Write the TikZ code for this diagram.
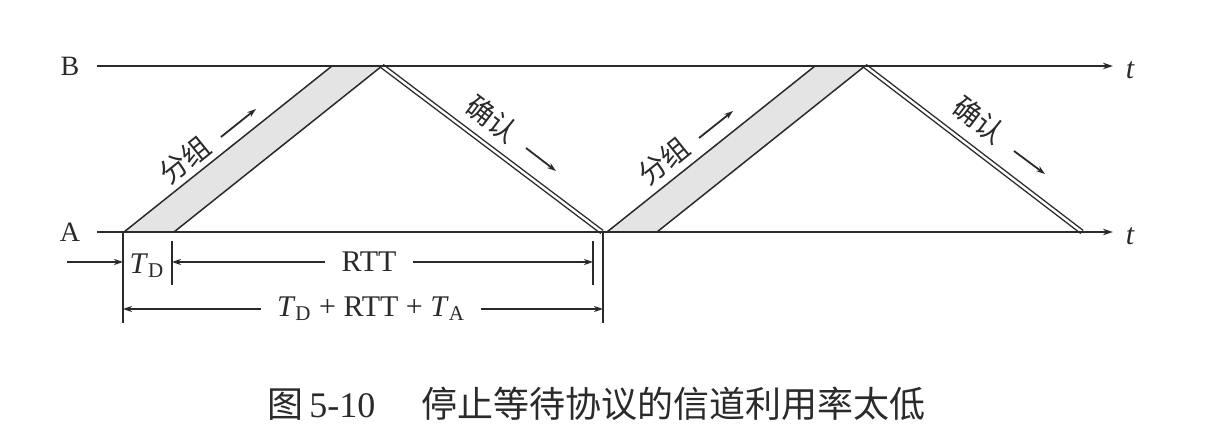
\documentclass[tikz,border=0pt]{standalone}
\usepackage{fontspec}
\setmainfont{Liberation Serif}
\newfontfamily\cjk{Noto Sans CJK SC}
\usetikzlibrary{arrows.meta}
\definecolor{ink}{HTML}{2A2A2A}
\definecolor{pktfill}{HTML}{E4E4E4}
\tikzset{
  axisline/.style={draw=ink, line width=1.2pt, -{Stealth[length=5pt,width=3.2pt]}},
  edge/.style={draw=ink, line width=0.75pt},
  pkt/.style={fill=pktfill},
  ackline/.style={draw=ink, line width=0.7pt, double=white, double distance=1.2pt},
  dimline/.style={draw=ink, line width=0.8pt},
  dimarrow/.style={draw=ink, line width=0.8pt, -{Stealth[length=4.5pt,width=3pt]}},
  lblarrow/.style={draw=ink, line width=0.9pt, -{Stealth[length=4.5pt,width=3pt]}},
  lbl/.style={inner sep=0pt, text=ink, font=\fontsize{14}{16}\selectfont},
  dimlbl/.style={inner sep=0pt, text=ink, font=\fontsize{15}{17}\selectfont},
  cjklbl/.style={inner sep=0pt, text=ink, font=\fontsize{14}{16}\selectfont\cjk},
}
\begin{document}
\begin{tikzpicture}[x=0.5pt,y=-0.5pt]
\useasboundingbox[fill=white] (0,0) rectangle (1206,426);

% station labels
\node[lbl] (B) at (70,66) {B};
\node[lbl] (A) at (70,232) {A};
\node[dimlbl, font=\fontsize{15}{17}\selectfont\itshape] (tB) at (1130,70) {t};
\node[dimlbl, font=\fontsize{15}{17}\selectfont\itshape] (tA) at (1130,236) {t};

% axis coordinates
\coordinate (B0) at (97,66);
\coordinate (B1) at (1113,66);
\coordinate (A0) at (97,232);
\coordinate (A1) at (1113,232);

% packet 1
\coordinate (p1a) at (124,232);
\coordinate (p1b) at (174,232);
\coordinate (p1c) at (382,66);
\coordinate (p1d) at (332,66);
% ack 1
\coordinate (k1a) at (382,66);
\coordinate (k1b) at (602,232);
% packet 2
\coordinate (p2a) at (607,232);
\coordinate (p2b) at (657,232);
\coordinate (p2c) at (865,66);
\coordinate (p2d) at (815,66);
% ack 2
\coordinate (k2a) at (865,66);
\coordinate (k2b) at (1082,232);

\fill[pkt] (p1a) -- (p1b) -- (p1c) -- (p1d) -- cycle;
\fill[pkt] (p2a) -- (p2b) -- (p2c) -- (p2d) -- cycle;
\draw[edge] (p1a) -- (p1d);
\draw[edge] (p1b) -- (p1c);
\draw[edge] (p2a) -- (p2d);
\draw[edge] (p2b) -- (p2c);
\draw[ackline] (k1a) -- (k1b);
\draw[ackline] (k2a) -- (k2b);

\draw[axisline] (B0) -- (B1);
\draw[axisline] (A0) -- (A1);

% slanted labels
\node[cjklbl, rotate=38.9] (g1) at (185,160) {分组};
\coordinate (g1a) at (221,137);
\coordinate (g1b) at (256,109);
\draw[lblarrow] (g1a) -- (g1b);
\node[cjklbl, rotate=38.9] (g2) at (664,161) {分组};
\coordinate (g2a) at (699,138);
\coordinate (g2b) at (733,111);
\draw[lblarrow] (g2a) -- (g2b);
\node[cjklbl, rotate=-37] (c1) at (492,119) {确认};
\coordinate (c1a) at (526,148);
\coordinate (c1b) at (556,171);
\draw[lblarrow] (c1a) -- (c1b);
\node[cjklbl, rotate=-37] (c2) at (979,120) {确认};
\coordinate (c2a) at (1014,151);
\coordinate (c2b) at (1045,174);
\draw[lblarrow] (c2a) -- (c2b);

% dimension bars
\coordinate (L0) at (123,232);
\coordinate (L1) at (123,323);
\coordinate (TD0) at (172,241);
\coordinate (TD1) at (172,285);
\coordinate (RT0) at (593,241);
\coordinate (RT1) at (593,285);
\coordinate (R0) at (603,232);
\coordinate (R1) at (603,323);
\draw[dimline] (L0) -- (L1);
\draw[dimline] (TD0) -- (TD1);
\draw[dimline] (RT0) -- (RT1);
\draw[dimline] (R0) -- (R1);

% T_D
\coordinate (in0) at (67,262);
\coordinate (in1) at (123,262);
\draw[dimarrow] (in0) -- (in1);
\node[dimlbl] (td) at (147,266) {\textit{T}\textsubscript{D}};

% RTT
\node[dimlbl, inner xsep=8pt] (rtt) at (369,262) {RTT};
\coordinate (rttL) at (172,262);
\coordinate (rttR) at (593,262);
\draw[dimarrow] (rtt.west) -- (rttL);
\draw[dimarrow] (rtt.east) -- (rttR);

% total
\node[dimlbl, inner xsep=8pt] (tot) at (371,309) {\textit{T}\textsubscript{D} + RTT + \textit{T}\textsubscript{A}};
\coordinate (totL) at (123,309);
\coordinate (totR) at (603,309);
\draw[dimarrow] (tot.west) -- (totL);
\draw[dimarrow] (tot.east) -- (totR);

% caption
\node[anchor=west, inner sep=0pt, text=ink, font=\fontsize{18}{21}\selectfont] (cap) at (267,404)
  {{\cjk 图}\,5-10\hspace{23pt}{\cjk 停止等待协议的信道利用率太低}};
\end{tikzpicture}
\end{document}
